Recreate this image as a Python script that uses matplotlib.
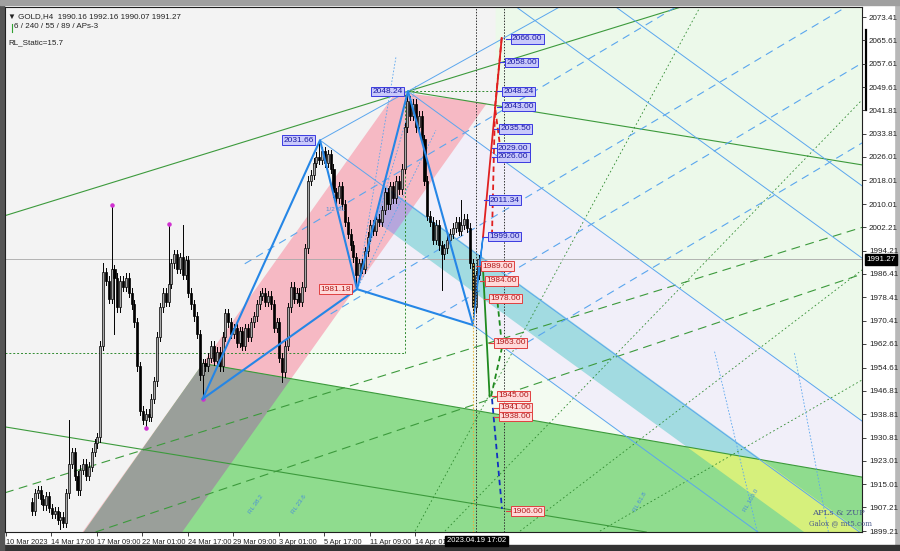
import numpy as np
import matplotlib.pyplot as plt
from matplotlib.patches import Polygon, Rectangle
from matplotlib.colors import LinearSegmentedColormap

plt.rcParams['font.family'] = ['Liberation Sans', 'DejaVu Sans']

# H4 closes, bar 0 = first candle on the chart
closes = [1906, 1912, 1913, 1910, 1908, 1911, 1907, 1905, 1906, 1903, 1904, 1902,
          1912, 1922, 1926, 1918, 1913, 1920, 1922, 1918, 1921, 1926, 1929, 1931,
          1962, 1987, 1984, 1978, 1988, 1985, 1975, 1984, 1982, 1985, 1980, 1976,
          1970, 1955, 1940, 1937, 1939, 1938, 1944, 1950, 1965, 1975, 1980, 1977,
          1983, 1990, 1993, 1988, 1992, 1986, 1991, 1980, 1976, 1972, 1966, 1952,
          1956, 1955, 1958, 1962, 1957, 1960, 1955, 1965, 1973, 1970, 1966, 1968,
          1963, 1967, 1962, 1968, 1965, 1970, 1972, 1976, 1979, 1980, 1977, 1979,
          1976, 1968, 1970, 1958, 1953, 1962, 1975, 1982, 1978, 1980, 1977, 1982,
          1995, 2018, 2020, 2024, 2026, 2025, 2028, 2024, 2027, 2022, 2014, 2012,
          2016, 2010, 2004, 2000, 1996, 1992, 1986, 1990, 1988, 1994, 1999, 2003,
          2001, 2005, 2004, 2008, 2014, 2010, 2016, 2012, 2018, 2015, 2022, 2036,
          2045, 2040, 2044, 2036, 2040, 2032, 2018, 2006, 2004, 1998, 2003, 1996,
          1993, 1995, 1998, 2000, 2002, 2004, 2001, 2003, 2005, 2002, 1990, 1975,
          1986, 1991.27]
first_open = 1909
spike_highs = {13: 1937, 25: 1990, 28: 2009.7, 48: 2003.3, 53: 2003, 101: 2031.66,
               132: 2048.24, 151: 2011.4}
spike_lows = {10: 1900, 29: 1966, 40: 1934.1, 60: 1944, 88: 1949.7, 114: 1981.18,
              144: 1981, 155: 1969}
fractal_x = [28, 40, 48, 60]
fractal_y = [2009.7, 1934.1, 2003.3, 1944]

zig_x = [60, 101.27, 114.28, 132.2, 155.06]
zig_y = [1944.0, 2031.66, 1981.18, 2048.24, 1969.0]

up_targets = [2066.00, 2058.00, 2048.24, 2043.00, 2035.50, 2029.00, 2026.00, 2011.34, 1999.00]
up_label_x = [168.8, 166.7, 165.8, 165.8, 164.6, 163.8, 163.8, 161.0, 160.8]
dn_targets = [1989.00, 1984.00, 1978.00, 1963.00, 1945.00, 1941.00, 1938.00, 1906.00]
dn_label_x = [158.4, 159.8, 161.2, 162.8, 164.0, 164.6, 164.6, 168.8]

price_ticks = [2073.41, 2065.61, 2057.61, 2049.61, 2041.81, 2033.81, 2026.01, 2018.01,
               2010.01, 2002.21, 1994.21, 1986.41, 1978.41, 1970.41, 1962.61, 1954.61,
               1946.81, 1938.81, 1930.81, 1923.01, 1915.01, 1907.21, 1899.21]
date_ticks = [-9.3, 6.7, 22.7, 38.7, 54.7, 70.7, 86.7, 102.7, 118.7, 134.7]
date_labels = ['10 Mar 2023', '14 Mar 17:00', '17 Mar 09:00', '22 Mar 01:00',
               '24 Mar 17:00', '29 Mar 09:00', '3 Apr 01:00', '5 Apr 17:00',
               '11 Apr 09:00', '14 Apr 01:00']
last_price = 1991.27

fig = plt.figure(figsize=(9, 5.51), dpi=100)

# screenshot frame
bg = fig.add_axes([0, 0, 1, 1])
bg.set_xlim(0, 900)
bg.set_ylim(551, 0)
bg.axis('off')
bg.add_patch(Rectangle((0, 0), 900, 551, color='#b8b8b8'))
bg.add_patch(Rectangle((4, 5), 890, 540, color='white'))
grad = LinearSegmentedColormap.from_list('g', ['white', 'white', '#d0d0d0', '#7a7a7a'])
bg.imshow(np.linspace(0, 1, 64)[None, :], extent=(862, 900, 546, 0), cmap=grad, aspect='auto')
bg.imshow(np.linspace(0, 1, 64)[:, None], extent=(0, 900, 546, 531), cmap=grad, aspect='auto')
bg.add_patch(Rectangle((0, 545), 900, 6, color='#333333'))
bg.add_patch(Rectangle((0, 0), 4, 551, color='#555555'))
bg.add_patch(Rectangle((0, 0), 900, 5, color='#a0a0a0'))
bg.plot([866, 866], [30, 110], color='black', lw=1.6)

ax = fig.add_axes([5 / 900, 19 / 551, 857 / 900, 525 / 551])
ax.set_xlim(-9.5, 291.84)
ax.set_ylim(1898.89, 2076.8)
ax.set_facecolor('#f3f3f3')

xr = 291.84
y0, y1 = 1898.0, 2078.0
s = 0.70  # slope of the pitchfork tines, price per bar

def tine(x0, p0, x):
    return p0 - s * (x - x0)

# coloured zones
pink = [(17.58, 1898.6), (127.99, 2048.0), (159.95, 2044.2), (52.6, 1898.6)]
green = [(60.02, 1956.0), (xr, 1917.5), (xr, y0), (17.58, y0)]
teal = [(118.5, 1995.4), (124.0, 2016.2), (xr, tine(124.0, 2016.2, xr)),
        (xr, tine(121.3, 2004.0, xr)), (121.3, 2004.0)]
pale = [(163, y1), (xr, y1), (xr, tine(132.2, 2048.24, xr)), (163, tine(132.2, 2048.24, 163))]
lav = [(114.28, 1981.18), (132.2, 2048.24), (xr, tine(132.2, 2048.24, xr)),
       (xr, tine(155.06, 1969.0, xr)), (155.06, 1969.0)]
under = [(114.28, 1981.18), (155.06, 1969.0), (xr, tine(155.06, 1969.0, xr)), (xr, 1917.5),
         (60.02, 1956.0)]

ax.add_patch(Polygon(pale, color='#ecf9ea', lw=0, zorder=0))
ax.add_patch(Polygon(lav, color='#f1eff9', lw=0, zorder=0))
ax.add_patch(Polygon(under, color='#f3fbf1', lw=0, zorder=0))
ax.add_patch(Polygon(pink, color='#f6b9c4', lw=0, zorder=1))
pink_p = Polygon(pink, transform=ax.transData)
ax.add_patch(Polygon(teal, color='#a2dbe1', lw=0, zorder=1))
tp = Polygon(teal, color='#b6a6dc', lw=0, zorder=1.1)
ax.add_patch(tp)
tp.set_clip_path(pink_p)
gp = Polygon(green, color='#8fdc8e', lw=0, zorder=1.2)
ax.add_patch(gp)
gray = Polygon(pink, color='#9a9f9a', lw=0, zorder=1.3)
ax.add_patch(gray)
gray.set_clip_path(gp)
yel = Polygon(teal, color='#d6f07c', lw=0, zorder=1.3)
ax.add_patch(yel)
yel.set_clip_path(gp)

# green lines
gc = '#3c9a3c'
ax.axline((-8.8, 2006.3), (132.2, 2048.24), color=gc, lw=0.8, zorder=2)
ax.plot([132.2, xr], [2048.24, 2023.3], color=gc, lw=0.8, zorder=2)
ax.plot([60.02, xr], [1956.0, 1917.5], color=gc, lw=0.8, zorder=2)
ax.axline((-8.8, 1934.4), (76.65, 1920.9), color=gc, lw=0.8, zorder=2)
ax.axline((-8.8, 1912.4), (76.65, 1937.9), color=gc, lw=0.8, ls=(0, (8, 5)), zorder=2)
ax.axline((21.45, 1898.6), (76.65, 1916.5), color=gc, lw=0.8, ls=(0, (8, 5)), zorder=2)
for a, b in [((134.7, 1899.2), (234.9, 2076.8)), ((145.2, 1899.2), (xr, 2045.3)),
             ((171.6, 1899.2), (xr, 1987.7)), ((199.7, 1899.2), (xr, 1950.4))]:
    ax.plot([a[0], b[0]], [a[1], b[1]], color='#2f8a2f', lw=0.6, ls=(0, (2, 3)), zorder=2)
ax.plot([-9.5, 131.15], [1959.6, 1959.6], color='#2f8a2f', lw=0.7, ls=(0, (2, 2)), zorder=2)
ax.plot([131.15, 131.15], [1959.6, 2048.0], color='#2f8a2f', lw=0.7, ls=(0, (2, 2)), zorder=2)
ax.plot([132.2, 163], [2048.24, 2048.24], color='#2f8a2f', lw=0.7, ls=(0, (2, 2)), zorder=2)

# thin blue lines
bc = '#5aa6ee'
ax.plot([101.27, 195], [2031.66, 2081.9], color=bc, lw=0.7, zorder=2)
for x0, p0 in [(101.27, 2031.66), (132.2, 2048.24), (155.06, 1969.0), (170, 2077), (205, 2077)]:
    ax.plot([x0, xr + 5], [p0, tine(x0, p0, xr + 5)], color=bc, lw=0.7, zorder=2)
for x0, p0 in [(104.8, 2007.0), (135, 1990), (165, 1985), (200, 1978)]:
    ax.plot([x0 - 30, x0 + 150], [p0 - 0.574 * 30, p0 + 0.574 * 150], color=bc, lw=0.8,
            ls=(0, (7, 5)), zorder=2)
for x1, p1 in [(128, 2060), (135, 2050), (142, 2035)]:
    ax.plot([114.28, x1], [1981.18, p1], color=bc, lw=0.6, ls=(0, (2, 2)), zorder=2)
for x0, x1 in [(255, 240), (280, 268)]:
    ax.plot([x0, x1], [1899, 1960], color=bc, lw=0.6, ls=(0, (2, 2)), zorder=2)
ax.axhline(last_price, color='#a8a8a8', lw=0.6, zorder=2)

# candles
opens = [first_open] + closes[:-1]
for i, (o, c) in enumerate(zip(opens, closes)):
    hi = spike_highs.get(i, max(o, c) + 1.5)
    lo = spike_lows.get(i, min(o, c) - 1.5)
    ax.plot([i, i], [lo, hi], color='black', lw=0.7, zorder=3)
    bull = c >= o
    ax.add_patch(Rectangle((i - 0.36, min(o, c)), 0.72, max(abs(c - o), 0.4),
                           facecolor='#a9a9a9' if bull else 'black', edgecolor='black',
                           lw=0.5, zorder=3.1))
ax.scatter(fractal_x, fractal_y, s=5, color='#d030d0', zorder=4)

# zigzag
zc = '#2586e6'
ax.plot(zig_x, zig_y, color=zc, lw=1.5, zorder=4)
ax.plot([zig_x[0], zig_x[2], zig_x[4]], [zig_y[0], zig_y[2], zig_y[4]], color=zc, lw=1.5, zorder=4)
ax.plot([155.06, 158.58, 156.2], [1969.0, 1998.9, 1980], color=zc, lw=1.0, zorder=4)

# targets
ax.plot([158.58, 165.16], [1998.9, 2066.3], color='#e02020', lw=1.3, zorder=4)
ax.plot([161.74, 162.8], [1999.5, 2042.9], color='#e02020', lw=1.3, ls=(0, (3, 2)), zorder=4)
ax.plot([165.16, 162.8, 164.74], [2066.3, 2042.9, 2028.3], color='#e02020', lw=1.3,
        ls=(0, (3, 2)), zorder=4)
ax.plot([158.58, 160.9], [1988.0, 1944.8], color='#1f8a1f', lw=1.3, zorder=4)
ax.plot([161.4, 165.3, 163.6], [1944.8, 1961.6, 1977.5], color='#1f8a1f', lw=1.3,
        ls=(0, (3, 2)), zorder=4)
ax.plot([161.74, 165.26], [1944.0, 1906.7], color='#1030c0', lw=1.3, ls=(0, (3, 2)), zorder=4)

lab_kw = dict(fontsize=6, va='center', ha='left', zorder=6)
for v, x in zip(up_targets, up_label_x):
    ax.text(x, v, f'{v:.2f}', color='#1a1aa0',
            bbox=dict(boxstyle='square,pad=0.15', fc='#c9c9fb', ec='#3a3ae0', lw=0.7), **lab_kw)
    ax.plot([x - 2.2, x - 0.4], [v, v], color='#3a3ae0', lw=0.8, zorder=6)
for v, x in zip(dn_targets, dn_label_x):
    ax.text(x, v, f'{v:.2f}', color='#b01818',
            bbox=dict(boxstyle='square,pad=0.15', fc='#ffdada', ec='#e04040', lw=0.7), **lab_kw)
    ax.plot([x - 2.2, x - 0.4], [v, v], color='#e04040', lw=0.8, zorder=6)
for v, x, col in [(2048.24, 119.6, 'b'), (2031.66, 88.3, 'b'), (1981.18, 101.3, 'r')]:
    fc, ec, tc = ('#c9c9fb', '#3a3ae0', '#1a1aa0') if col == 'b' else ('#ffdada', '#e04040', '#b01818')
    ax.text(x, v, f'{v:.2f}', color=tc, bbox=dict(boxstyle='square,pad=0.15', fc=fc, ec=ec, lw=0.7),
            **lab_kw)

# vertical markers
ax.axvline(156.1, color='#333333', lw=0.7, ls=(0, (1.5, 1.5)), zorder=5)
ax.axvline(165.96, color='#333333', lw=0.7, ls=(0, (1.5, 1.5)), zorder=5)
ax.plot([154.96, 154.96], [1898.9, 1990], color='#e8b040', lw=0.8, ls=(0, (1.5, 1.5)), zorder=5)

# small fibo tags
for x, p, t, r in [(103.5, 2007.5, '1/2 ML', 0), (91, 1905, 'RL 23.6', 55), (76, 1905, 'RL 38.2', 55),
                   (211, 1906, 'RL 61.8', 60), (250, 1906, 'RL 100.0', 60)]:
    ax.text(x, p, t, fontsize=4.5, color='#4a90d8', rotation=r, zorder=5)

# axes cosmetics
ax.yaxis.tick_right()
ax.set_yticks(price_ticks)
ax.set_yticklabels([f'{v:.2f}' for v in price_ticks])
ax.tick_params(axis='y', labelsize=5.8, length=3, width=0.6, pad=2, colors='#222222')
ax.set_xticks(date_ticks)
ax.set_xticklabels(date_labels, ha='left')
ax.tick_params(axis='x', labelsize=5.3, length=3, width=0.6, pad=2, colors='#222222')
for sp in ax.spines.values():
    sp.set_color('#202020')
    sp.set_linewidth(0.8)

ax.text(1.005, (last_price - 1898.89) / (2076.8 - 1898.89), f'{last_price:.2f}',
        transform=ax.transAxes, fontsize=5.8, color='white', va='center', ha='left',
        bbox=dict(boxstyle='square,pad=0.2', fc='black', ec='black'), zorder=10, clip_on=False)
ax.text(156.4, -0.017, '2023.04.19 17:02', transform=ax.get_xaxis_transform(), fontsize=5.5,
        color='white', va='center', ha='center',
        bbox=dict(boxstyle='square,pad=0.25', fc='black', ec='black'), clip_on=False, zorder=10)

ax.text(0.004, 0.989, '\u25bc GOLD,H4  1990.16 1992.16 1990.07 1991.27', transform=ax.transAxes,
        fontsize=5.8, color='#222222', va='top')
ax.plot([0.0085, 0.0085], [0.953, 0.968], transform=ax.transAxes, color='#30a030', lw=0.8)
ax.text(0.011, 0.970, '6 / 240 / 55 / 89 / APs-3', transform=ax.transAxes, fontsize=5.8,
        color='#222222', va='top')
ax.text(0.004, 0.938, 'RL_Static=15.7', transform=ax.transAxes, fontsize=5.8,
        color='#222222', va='top')
ax.text(0.942, 0.032, 'APLs & ZUP', transform=ax.transAxes, fontsize=6, color='#4a5a8a',
        family='DejaVu Serif', zorder=7)
ax.text(0.938, 0.012, 'Galox @ mt5.com', transform=ax.transAxes, fontsize=5, color='#4a5a8a',
        family='DejaVu Serif', zorder=7)

plt.savefig('out.png', dpi=100)
